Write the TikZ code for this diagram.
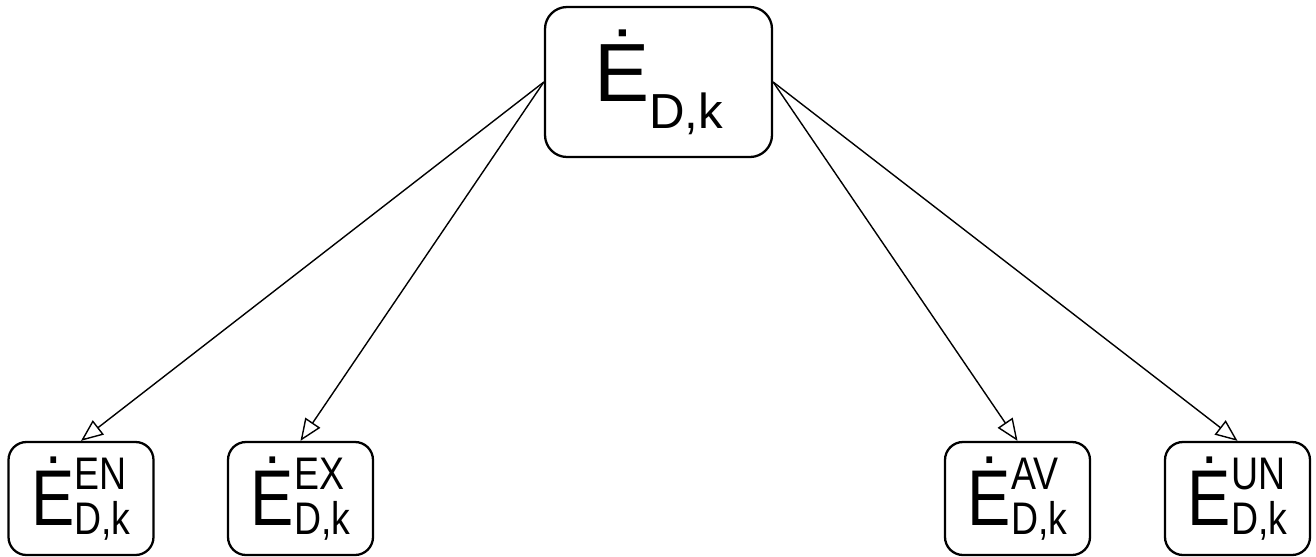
\documentclass[tikz,border=0pt]{standalone}
\usepackage{fontspec}
\setmainfont{Liberation Sans}
\usetikzlibrary{arrows.meta}

% exergy destruction term with split super-/subscript
\newcommand{\Epart}[1]{\scalebox{0.82}[1]{\fontsize{45}{45}\selectfont Ė\raisebox{-0.18cm}{\fontsize{26}{26}\selectfont\rlap{\raisebox{0.9cm}{#1}}D,k}}}

\tikzset{
	topbox/.style={draw, line width=1.3pt, rounded corners=0.44cm, minimum width=4.54cm, minimum height=3cm, inner sep=0pt},
	partbox/.style={draw, line width=1.3pt, rounded corners=0.36cm, minimum width=2.9cm, minimum height=2.26cm, inner sep=0pt},
	split/.style={line width=0.8pt, -{Triangle[open, length=0.44cm, width=0.36cm]}}
}

\begin{document}
\begin{tikzpicture}
		%%%%% START %%%%%
		
		\useasboundingbox (0, 0) rectangle (26.32, -11.14);
		
		\node[topbox] (total) at (13.17, -1.64) {\fontsize{47}{47}\selectfont Ė\raisebox{-0.54cm}{\fontsize{28}{28}\selectfont D,k}};
		
		\node[partbox] (endo) at (1.62, -9.97) {\Epart{EN}};
		\node[partbox] (exo) at (6.01, -9.97) {\Epart{EX}};
		\node[partbox] (avoid) at (20.35, -9.97) {\Epart{AV}};
		\node[partbox] (unavoid) at (24.75, -9.97) {\Epart{UN}};
		
		\draw[split] (total.west) -- (endo.north);
		\draw[split] (total.west) -- (exo.north);
		\draw[split] (total.east) -- (avoid.north);
		\draw[split] (total.east) -- (unavoid.north);
		
		%%%%% END %%%%%
	\end{tikzpicture}
\end{document}
